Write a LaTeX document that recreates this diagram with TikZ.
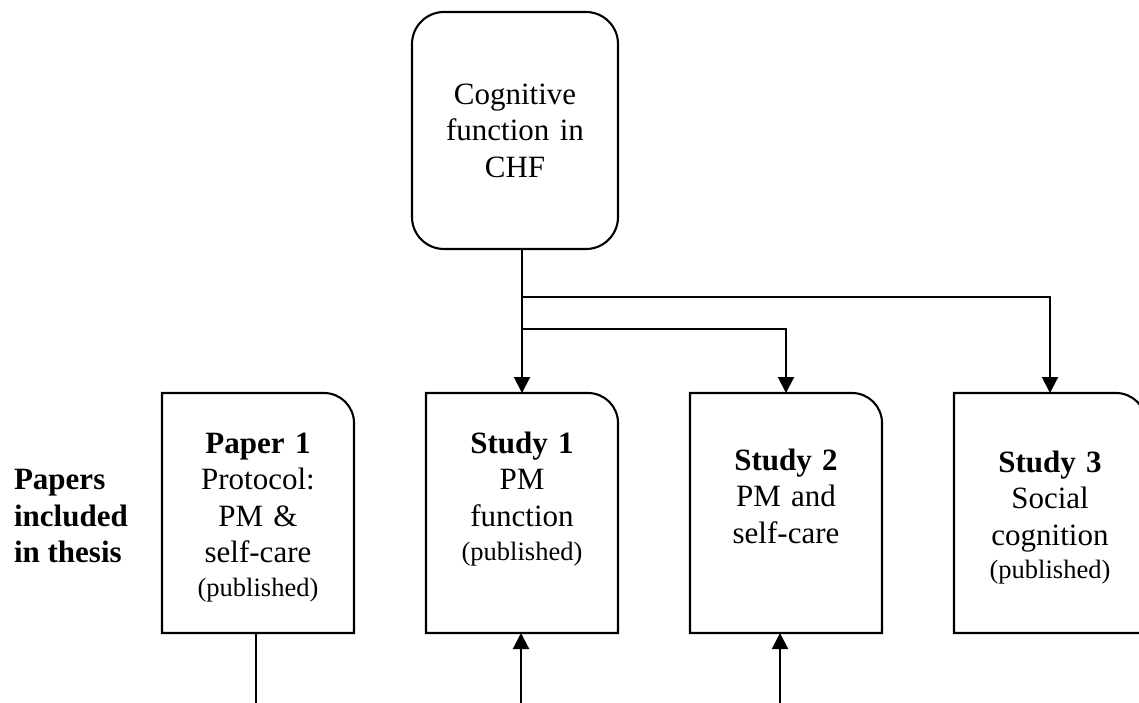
\documentclass[tikz,border=0pt]{standalone}
\usepackage{fontspec}
\setmainfont{Liberation Serif}
\usetikzlibrary{arrows.meta}
\newcommand{\pubnote}[1]{{\fontsize{26.5}{31}\selectfont #1}}

\begin{document}
\begin{tikzpicture}[x=1pt,y=1pt,line width=2.1pt,>={Triangle[length=16pt,width=16pt]},
  paper/.style={minimum width=192pt,minimum height=240pt,text width=180pt,align=center,
    inner sep=0pt,outer sep=0pt,font=\fontsize{31}{36.5}\selectfont},
  topic/.style={draw,rounded corners=32pt,minimum width=206pt,minimum height=237pt,
    text width=190pt,align=center,inner sep=0pt,outer sep=0pt,font=\fontsize{31}{36.5}\selectfont}]
\useasboundingbox (0,0) rectangle (1139,702);
\clip (0,0) rectangle (1139,702);

\node[topic] (cog) at (515,571.5) {Cognitive\\function in\\CHF};

\node[paper,text height=50pt,text depth=170pt] (p1) at (258,189) {\textbf{Paper 1}\\Protocol:\\PM \&\\self-care\\[-3pt]\pubnote{(published)}};
\node[paper,text height=50pt,text depth=170pt] (s1) at (522,189) {\textbf{Study 1}\\PM\\function\\[-2pt]\pubnote{(published)}};
\node[paper,text height=67pt,text depth=153pt] (s2) at (786,189) {\textbf{Study 2}\\PM and\\self-care};
\node[paper,text height=69pt,text depth=151pt] (s3) at (1050,189) {\textbf{Study 3}\\Social\\cognition\\[-3pt]\pubnote{(published)}};
\foreach \n in {p1,s1,s2,s3}
  \draw (\n.south west) -- (\n.north west) -- ([xshift=-30pt]\n.north east)
    arc[start angle=90,end angle=0,radius=30pt] -- (\n.south east) -- cycle;

\node[align=left,anchor=west,inner sep=0pt,font=\fontsize{31}{36.5}\selectfont\bfseries] (lbl) at (13,186) {Papers\\included\\in thesis};

% links from the topic down to the studies
\coordinate (fork1) at (s1.north |- 0,405);
\coordinate (fork2) at (s1.north |- 0,373);
\draw[->] (s1.north |- cog.south) -- (s1.north);
\draw[->] (fork1) -| (s3.north);
\draw[->] (fork2) -| (s2.north);

% lines running off the bottom
\coordinate (p1foot) at (256,-5);
\coordinate (s1foot) at (521,-5);
\coordinate (s2foot) at (780,-5);
\draw (p1foot |- p1.south) -- (p1foot);
\draw[->] (s1foot) -- (s1foot |- s1.south);
\draw[->] (s2foot) -- (s2foot |- s2.south);
\end{tikzpicture}
\end{document}
